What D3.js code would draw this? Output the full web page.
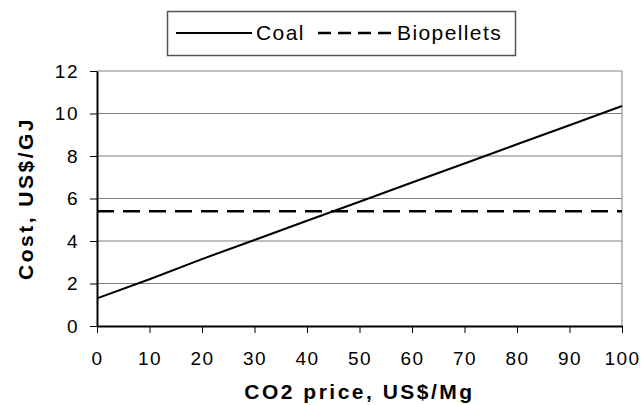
<!DOCTYPE html>
<html>
<head>
<meta charset="utf-8">
<script src="https://cdn.jsdelivr.net/npm/d3@7"></script>
<style>
  body { margin: 0; background: #fff; }
  text { font-family: "Liberation Sans", Arial, sans-serif; fill: #000; }
</style>
</head>
<body>
<div id="chart"></div>
<script>
// CO2 price (US$/Mg)
const co2Price = [0, 10, 20, 30, 40, 50, 60, 70, 80, 90, 100];
// cost in US$/GJ
const coalCost = [1.3, 2.2, 3.15, 4.05, 4.95, 5.85, 6.75, 7.65, 8.55, 9.45, 10.35];
const biopelletCost = [5.4, 5.4, 5.4, 5.4, 5.4, 5.4, 5.4, 5.4, 5.4, 5.4, 5.4];
const yTicks = [0, 2, 4, 6, 8, 10, 12];
const xTicks = [0, 10, 20, 30, 40, 50, 60, 70, 80, 90, 100];
const seriesNames = ['Coal', 'Biopellets'];

const width = 642, height = 405;
const margin = { top: 71, right: 20, bottom: 79, left: 97 };
const graphWidth = width - margin.left - margin.right;
const graphHeight = height - margin.top - margin.bottom;

const svg = d3.select('#chart')
  .append('svg')
  .attr('width', width)
  .attr('height', height);

const graph = svg.append('g')
  .attr('transform', `translate(${margin.left}, ${margin.top})`);

//Scales
const x = d3.scaleLinear().domain([0, 100]).range([0, graphWidth]);
const y = d3.scaleLinear().domain([0, 12]).range([graphHeight, 0]);

// gridlines
graph.append('g')
  .selectAll('line')
  .data(yTicks.filter(d => d > 0))
  .enter().append('line')
  .attr('x1', 0).attr('x2', graphWidth)
  .attr('y1', d => y(d)).attr('y2', d => y(d))
  .attr('stroke', '#808080')
  .attr('stroke-width', 1);

// right border of plot area
graph.append('line')
  .attr('x1', graphWidth).attr('x2', graphWidth)
  .attr('y1', 0).attr('y2', graphHeight)
  .attr('stroke', '#808080');

//axes
const xAxis = d3.axisBottom(x).tickValues(xTicks).tickSize(7).tickPadding(19).tickSizeOuter(0);
const yAxis = d3.axisLeft(y).tickValues(yTicks).tickSize(7).tickPadding(11).tickSizeOuter(0);

const xAxisGroup = graph.append('g')
  .attr('transform', `translate(0, ${graphHeight})`)
  .call(xAxis);
const yAxisGroup = graph.append('g').call(yAxis);

[xAxisGroup, yAxisGroup].forEach(g => {
  g.select('.domain').attr('stroke', '#000').attr('stroke-width', 2);
  g.selectAll('.tick line').attr('stroke', '#000').attr('stroke-width', 1);
  g.selectAll('text')
    .attr('font-size', 19)
    .attr('letter-spacing', 1.5)
    .attr('fill', '#000')
    .style('font-family', '"Liberation Sans", Arial, sans-serif');
});

// lines
const line = d3.line().x((d, i) => x(co2Price[i])).y(d => y(d));

graph.append('path')
  .datum(coalCost)
  .attr('d', line)
  .attr('fill', 'none')
  .attr('stroke', '#000')
  .attr('stroke-width', 2);

graph.append('path')
  .datum(biopelletCost)
  .attr('d', line)
  .attr('fill', 'none')
  .attr('stroke', '#000')
  .attr('stroke-width', 2.5)
  .attr('stroke-dasharray', '17 9');

// axis titles
svg.append('text')
  .attr('x', margin.left + graphWidth / 2)
  .attr('y', 399)
  .attr('text-anchor', 'middle')
  .attr('font-size', 21)
  .attr('font-weight', 'bold')
  .attr('letter-spacing', 2.5)
  .text('CO2 price, US$/Mg');

svg.append('text')
  .attr('transform', `translate(33, ${margin.top + graphHeight / 2}) rotate(-90)`)
  .attr('text-anchor', 'middle')
  .attr('font-size', 21)
  .attr('font-weight', 'bold')
  .attr('letter-spacing', 2.5)
  .text('Cost, US$/GJ');

// legend
const legend = svg.append('g');
legend.append('rect')
  .attr('x', 167.5).attr('y', 11.5)
  .attr('width', 348).attr('height', 44)
  .attr('fill', '#fff')
  .attr('stroke', '#555')
  .attr('stroke-width', 1.5);

legend.append('line')
  .attr('x1', 176).attr('x2', 252)
  .attr('y1', 33).attr('y2', 33)
  .attr('stroke', '#000').attr('stroke-width', 2);
legend.append('text')
  .attr('x', 256).attr('y', 40)
  .attr('font-size', 21)
  .attr('letter-spacing', 1.4)
  .text(seriesNames[0]);

legend.append('line')
  .attr('x1', 318).attr('x2', 393)
  .attr('y1', 33).attr('y2', 33)
  .attr('stroke', '#000').attr('stroke-width', 2.5)
  .attr('stroke-dasharray', '13 7');
legend.append('text')
  .attr('x', 397).attr('y', 40)
  .attr('font-size', 21)
  .attr('letter-spacing', 1.4)
  .text(seriesNames[1]);
</script>
</body>
</html>
